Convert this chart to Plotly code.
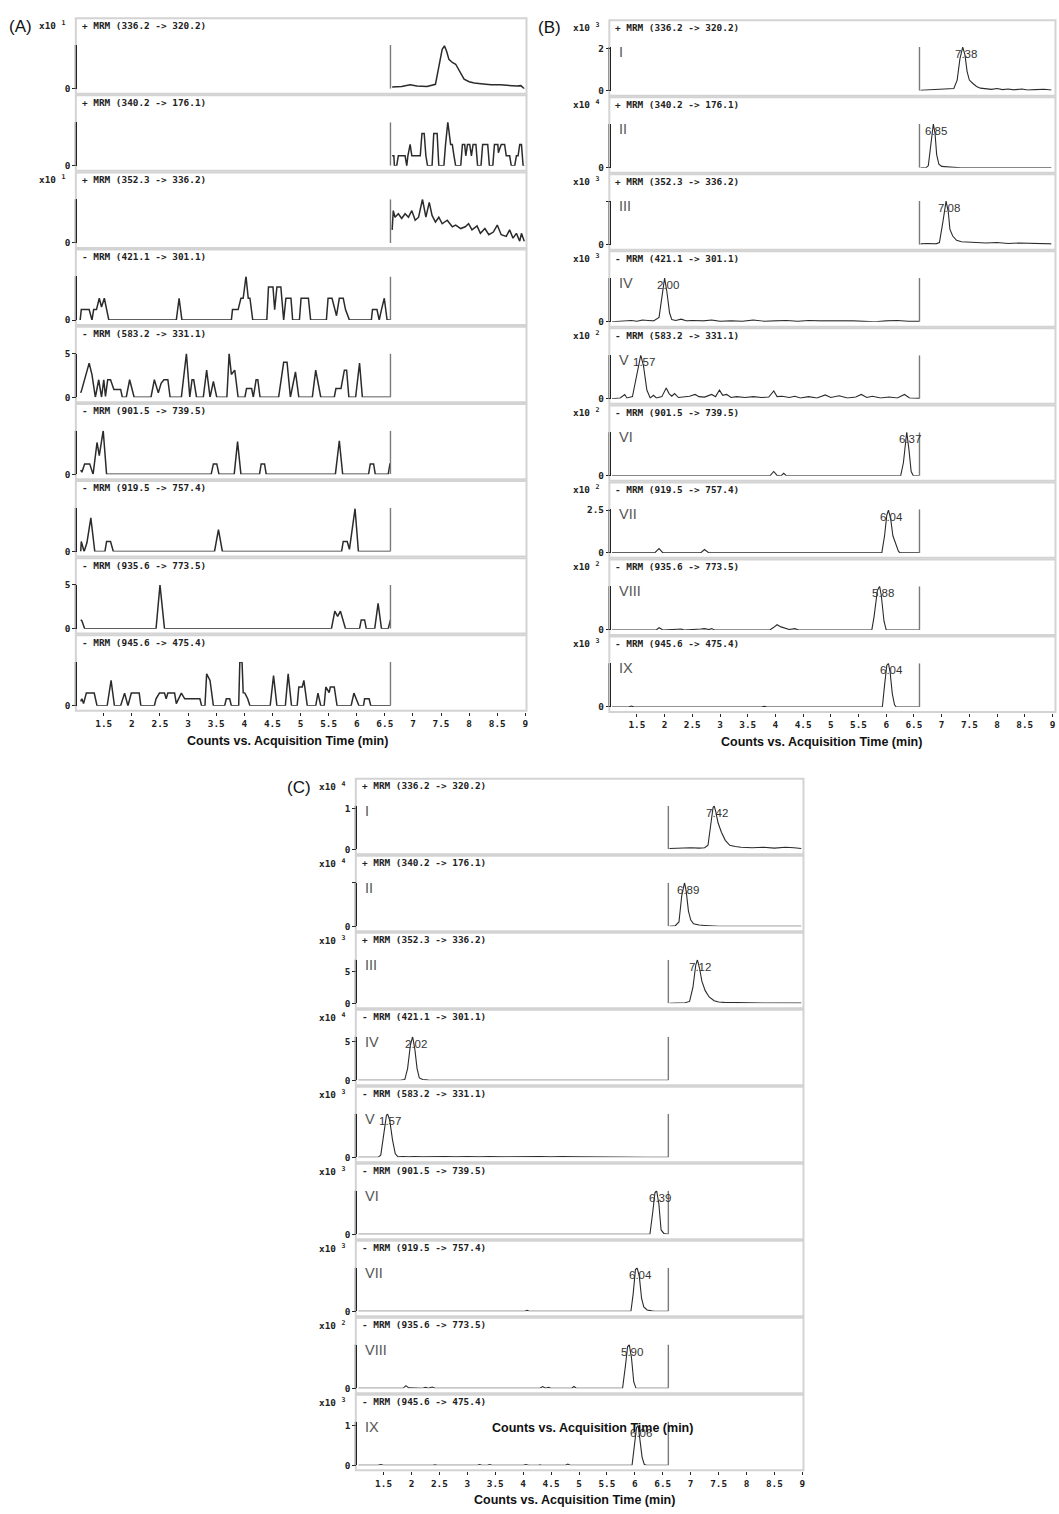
import plotly.graph_objects as go

W, H = 1059, 1514

# ---------------- shared axis data ----------------
TIME_TICKS = [1.5, 2, 2.5, 3, 3.5, 4, 4.5, 5, 5.5, 6, 6.5, 7, 7.5, 8, 8.5, 9]
TIME_TICK_TEXT = ["1.5", "2", "2.5", "3", "3.5", "4", "4.5", "5", "5.5", "6",
                  "6.5", "7", "7.5", "8", "8.5", "9"]
TIME_START = 1.03
SEGMENT_SPLIT = 6.6          # acquisition segment boundary (min)
X_TITLE = "Counts vs. Acquisition Time (min)"

TRANSITIONS = ["+ MRM (336.2 -> 320.2)", "+ MRM (340.2 -> 176.1)", "+ MRM (352.3 -> 336.2)",
               "- MRM (421.1 -> 301.1)", "- MRM (583.2 -> 331.1)", "- MRM (901.5 -> 739.5)",
               "- MRM (919.5 -> 757.4)", "- MRM (935.6 -> 773.5)", "- MRM (945.6 -> 475.4)"]
ROMAN = ["I", "II", "III", "IV", "V", "VI", "VII", "VIII", "IX"]

# ---------------- (A) blank ----------------
A1 = [(6.63,0.04),(6.80,0.05),(6.95,0.09),(7.07,0.06),(7.25,0.05),(7.40,0.10),(7.46,0.50),(7.52,0.90),
      (7.56,0.98),(7.60,0.85),(7.64,0.67),(7.70,0.60),(7.76,0.56),(7.83,0.40),(7.91,0.22),(8.00,0.16),
      (8.09,0.13),(8.25,0.11),(8.39,0.09),(8.55,0.09),(8.69,0.07),(8.85,0.06),(8.92,0.07),(8.98,0.00)]
A2 = [(6.63,0.23),(6.66,0.23),(6.67,0),(6.71,0),(6.74,0.23),(6.86,0.23),(6.89,0),(6.91,0.23),(6.95,0.49),
      (6.98,0.23),(7.13,0.23),(7.16,0.74),(7.20,0.74),(7.23,0.23),(7.26,0),(7.34,0),(7.37,0.74),(7.43,0.74),
      (7.46,0),(7.55,0),(7.58,0.49),(7.62,1.0),(7.67,0.49),(7.70,0.49),(7.73,0.23),(7.76,0),(7.85,0),
      (7.88,0.49),(7.92,0.49),(7.94,0.23),(7.97,0.49),(8.01,0.49),(8.04,0.23),(8.07,0.49),(8.12,0.49),
      (8.15,0),(8.21,0),(8.24,0.49),(8.33,0.49),(8.36,0),(8.42,0),(8.45,0.49),(8.51,0.49),(8.52,0.30),
      (8.57,0.49),(8.63,0.49),(8.66,0.23),(8.72,0.23),(8.75,0),(8.81,0),(8.84,0.23),(8.87,0.23),(8.90,0.49),
      (8.93,0.49),(8.96,0),(8.98,0)]
A3 = [(6.63,0.30),(6.65,0.74),(6.68,0.59),(6.74,0.67),(6.80,0.56),(6.86,0.67),(6.92,0.59),(6.98,0.74),
      (7.04,0.52),(7.10,0.59),(7.17,1.0),(7.23,0.59),(7.29,0.93),(7.34,0.63),(7.40,0.48),(7.46,0.59),
      (7.52,0.44),(7.61,0.52),(7.70,0.37),(7.76,0.41),(7.85,0.33),(7.93,0.37),(7.99,0.44),(8.05,0.30),
      (8.14,0.39),(8.20,0.22),(8.28,0.33),(8.35,0.19),(8.43,0.25),(8.50,0.41),(8.57,0.19),(8.66,0.15),
      (8.72,0.30),(8.78,0.11),(8.84,0.22),(8.90,0.04),(8.93,0.22),(8.97,0.07),(8.98,0.04)]
A4 = [(1.08,0.0),(1.10,0.24),(1.24,0.24),(1.29,0.0),(1.32,0.24),(1.37,0.24),(1.42,0.5),(1.46,0.3),
      (1.51,0.5),(1.55,0.24),(1.59,0.0),(2.79,0.0),(2.84,0.5),(2.89,0.0),(3.77,0.0),(3.79,0.24),
      (3.89,0.24),(3.94,0.5),(3.98,0.5),(4.03,1.0),(4.07,0.5),(4.10,0.5),(4.15,0.0),(4.40,0.0),
      (4.43,0.76),(4.51,0.76),(4.54,0.24),(4.58,0.76),(4.65,0.76),(4.70,0.0),(4.74,0.5),(4.83,0.5),
      (4.86,0.0),(4.98,0.0),(5.01,0.5),(5.14,0.5),(5.18,0.0),(5.46,0.0),(5.49,0.5),(5.56,0.5),(5.64,0.1),
      (5.69,0.5),(5.76,0.5),(5.80,0.24),(5.87,0.0),(6.26,0.0),(6.28,0.24),(6.36,0.24),(6.40,0.0),
      (6.44,0.24),(6.49,0.5),(6.54,0.0),(6.60,0.0)]
A5 = [(1.09,0.5),(1.11,0.9),(1.24,3.9),(1.29,2.6),(1.35,0),(1.41,2.0),(1.46,0),(1.50,2.0),(1.53,0.1),
      (1.57,2.0),(1.62,2.0),(1.68,0.9),(1.80,0.9),(1.83,0),(1.90,0),(1.96,2.0),(2.04,0),(2.34,0),(2.40,2.0),
      (2.47,0.5),(2.52,1.6),(2.57,2.0),(2.64,2.0),(2.68,0),(2.88,0),(2.97,5.0),(3.03,0),(3.07,2.0),
      (3.10,2.0),(3.15,0),(3.27,0),(3.33,3.1),(3.39,0),(3.45,1.8),(3.51,0),(3.69,0),(3.73,5.0),(3.77,2.6),
      (3.83,3.1),(3.89,0),(4.01,0),(4.04,1.0),(4.13,1.0),(4.16,0),(4.21,2.0),(4.24,2.0),(4.28,0),(4.61,0),
      (4.70,4.0),(4.76,4.0),(4.82,0),(4.91,2.9),(4.97,0),(5.21,0),(5.27,3.1),(5.36,0),(5.60,0),(5.63,1.0),
      (5.72,1.0),(5.78,3.1),(5.82,3.1),(5.86,0),(5.98,0),(6.05,3.9),(6.10,0),(6.60,0)]
A6 = [(1.09,0.1),(1.11,0.05),(1.16,0.24),(1.25,0.24),(1.31,0),(1.38,0.73),(1.42,0.43),(1.49,1.0),(1.55,0),
      (3.41,0),(3.45,0.24),(3.51,0.24),(3.55,0),(3.82,0),(3.88,0.75),(3.94,0),(4.27,0),(4.30,0.24),
      (4.36,0.24),(4.39,0),(5.62,0),(5.69,0.77),(5.75,0),(6.21,0),(6.24,0.24),(6.30,0.24),(6.33,0),
      (6.56,0),(6.59,0.24),(6.60,0.24)]
A7 = [(1.09,0.0),(1.10,0.23),(1.15,0.0),(1.20,0.2),(1.27,0.77),(1.34,0.0),(1.52,0),(1.55,0.23),(1.62,0.23),
      (1.67,0),(3.47,0),(3.54,0.5),(3.61,0),(5.73,0),(5.76,0.23),(5.83,0.23),(5.87,0.05),(5.97,0.98),
      (6.03,0),(6.60,0)]
A8 = [(1.09,1.0),(1.11,0.9),(1.16,0),(2.43,0),(2.50,5.0),(2.58,0),(5.55,0),(5.61,2.0),(5.66,1.4),
      (5.71,2.0),(5.80,0),(6.05,0),(6.08,1.0),(6.14,1.0),(6.17,0),(6.32,0),(6.38,2.9),(6.44,0),(6.56,0),
      (6.59,1.0),(6.60,1.0)]
A9 = [(1.09,0.1),(1.11,0.16),(1.14,0.05),(1.19,0.29),(1.33,0.29),(1.38,0),(1.56,0),(1.63,0.58),(1.69,0),
      (1.80,0),(1.87,0.29),(1.93,0),(1.99,0.29),(2.13,0.29),(2.16,0),(2.40,0),(2.43,0.16),(2.49,0.29),
      (2.58,0.29),(2.61,0.16),(2.64,0.29),(2.76,0.29),(2.79,0.05),(2.88,0.29),(2.94,0.16),(3.21,0.16),
      (3.24,0),(3.30,0),(3.33,0.73),(3.39,0.58),(3.45,0),(3.65,0),(3.68,0.16),(3.74,0.16),(3.77,0),
      (3.90,0),(3.92,1.0),(3.96,1.0),(3.98,0.3),(4.01,0.29),(4.06,0.16),(4.10,0),(4.46,0),(4.52,0.69),
      (4.58,0),(4.73,0),(4.78,0.73),(4.84,0),(4.94,0),(4.97,0.43),(5.03,0.43),(5.06,0.58),(5.12,0),
      (5.27,0),(5.31,0.29),(5.36,0),(5.42,0),(5.45,0.43),(5.51,0.3),(5.53,0.43),(5.60,0.43),(5.65,0),
      (5.90,0),(5.95,0.29),(5.99,0.16),(6.04,0),(6.12,0),(6.14,0.16),(6.22,0.16),(6.25,0),(6.60,0)]
A_SERIES = [A1, A2, A3, A4, A5, A6, A7, A8, A9]
A_EXP = [1, None, 1, None, None, None, None, None, None]
A_YTOP = [1, 1, 1, 1, 5, 1, 1, 5, 1]
A_YTICKS = [[(0, "0")], [(0, "0")], [(0, "0")], [(0, "0")], [(0, "0"), (5, "5")],
            [(0, "0")], [(0, "0")], [(0, "0"), (5, "5")], [(0, "0")]]

# ---------------- (B) ----------------
B1 = [(6.62,0.02),(6.80,0.04),(6.95,0.07),(7.05,0.05),(7.15,0.06),(7.22,0.10),(7.28,0.50),(7.33,1.50),
      (7.38,2.05),(7.42,1.70),(7.46,0.90),(7.50,0.50),(7.56,0.35),(7.63,0.20),(7.70,0.12),(7.80,0.08),
      (7.90,0.06),(8.00,0.10),(8.10,0.05),(8.20,0.08),(8.30,0.04),(8.45,0.08),(8.55,0.03),(8.70,0.05),
      (8.85,0.07),(8.98,0.03)]
B2 = [(6.62,0.0),(6.72,0.0),(6.76,0.05),(6.80,0.5),(6.85,1.0),(6.88,0.8),(6.91,0.3),(6.95,0.08),
      (7.00,0.03),(7.10,0.02),(7.20,0.01),(7.35,0.0),(8.98,0.0)]
B3 = [(6.62,0.02),(6.75,0.03),(6.90,0.02),(6.96,0.05),(7.02,0.5),(7.08,1.0),(7.12,0.75),(7.15,0.35),
      (7.20,0.2),(7.27,0.1),(7.36,0.07),(7.46,0.06),(7.60,0.05),(7.80,0.04),(8.00,0.05),(8.20,0.03),
      (8.40,0.04),(8.60,0.03),(8.80,0.03),(8.98,0.02)]
B4 = [(1.05,0.0),(1.30,0.01),(1.40,0.03),(1.50,0.01),(1.60,0.04),(1.70,0.03),(1.80,0.02),(1.90,0.10),
      (1.95,0.60),(2.00,1.0),(2.04,0.7),(2.09,0.2),(2.13,0.05),(2.20,0.03),(2.30,0.06),(2.40,0.02),
      (2.50,0.03),(2.70,0.02),(2.85,0.04),(3.00,0.01),(3.20,0.02),(3.40,0.01),(3.60,0.04),(3.80,0.01),
      (4.00,0.02),(4.20,0.03),(4.40,0.01),(4.60,0.03),(4.80,0.02),(5.00,0.02),(5.20,0.03),(5.40,0.02),
      (5.60,0.01),(5.80,0.0),(6.00,0.02),(6.20,0.03),(6.40,0.01),(6.60,0.01)]
B5 = [(1.05,0.0),(1.20,0.02),(1.28,0.10),(1.32,0.02),(1.42,0.05),(1.51,0.60),(1.57,1.0),(1.62,0.75),
      (1.68,0.2),(1.74,0.02),(1.80,0.08),(1.85,0.02),(1.95,0.05),(2.03,0.25),(2.08,0.12),(2.13,0.06),
      (2.18,0.12),(2.25,0.03),(2.35,0.04),(2.45,0.06),(2.55,0.10),(2.62,0.05),(2.72,0.04),(2.85,0.10),
      (2.92,0.05),(2.99,0.20),(3.05,0.08),(3.12,0.10),(3.20,0.03),(3.30,0.05),(3.45,0.03),(3.60,0.05),
      (3.75,0.03),(3.88,0.04),(3.97,0.18),(4.03,0.05),(4.12,0.06),(4.25,0.03),(4.35,0.06),(4.45,0.02),
      (4.60,0.05),(4.75,0.02),(4.90,0.09),(5.00,0.03),(5.15,0.07),(5.30,0.02),(5.45,0.04),(5.55,0.10),
      (5.65,0.03),(5.75,0.06),(5.90,0.02),(6.05,0.04),(6.20,0.02),(6.33,0.10),(6.42,0.02),(6.60,0.01)]
B6 = [(1.05,0.0),(3.90,0.0),(3.97,0.10),(4.03,0.01),(4.10,0.0),(4.15,0.06),(4.20,0.0),(6.26,0.0),
      (6.31,0.3),(6.35,0.9),(6.37,1.0),(6.41,0.6),(6.45,0.1),(6.49,0.0),(6.60,0.0)]
B7 = [(1.05,0.0),(1.82,0.0),(1.90,0.25),(1.97,0.0),(2.65,0.0),(2.72,0.2),(2.80,0.0),(5.92,0.0),
      (5.97,1.0),(6.01,2.2),(6.04,2.5),(6.08,2.0),(6.12,1.0),(6.17,0.5),(6.22,0.1),(6.25,0.0),(6.60,0.0)]
B8 = [(1.05,0.0),(1.85,0.0),(1.90,0.05),(1.97,0.0),(2.30,0.02),(2.35,0.0),(2.65,0.02),(2.72,0.03),
      (2.80,0.01),(2.85,0.03),(2.90,0.0),(3.90,0.0),(3.97,0.06),(4.03,0.12),(4.10,0.07),(4.17,0.05),
      (4.25,0.01),(4.35,0.03),(4.42,0.0),(5.74,0.0),(5.78,0.3),(5.84,0.9),(5.88,1.0),(5.91,0.8),
      (5.96,0.2),(6.00,0.0),(6.60,0.0)]
B9 = [(1.05,0.0),(1.35,0.0),(1.40,0.02),(1.45,0.0),(3.75,0.0),(3.80,0.015),(3.85,0.0),(5.93,0.0),
      (5.97,0.5),(6.01,0.95),(6.04,1.0),(6.07,0.8),(6.11,0.3),(6.15,0.05),(6.18,0.0),(6.60,0.0)]
B_SERIES = [B1, B2, B3, B4, B5, B6, B7, B8, B9]
B_EXP = [3, 4, 3, 3, 2, 2, 2, 2, 3]
B_YTOP = [2.06, 1, 1, 1, 1, 1, 2.55, 1, 1]
B_YTICKS = [[(0, "0"), (2, "2")], [(0, "0")], [(0, "0"), (1, "")], [(0, "0")], [(0, "0")],
            [(0, "0")], [(0, "0"), (2.5, "2.5")], [(0, "0")], [(0, "0")]]
B_PEAK_RT = ["7.38", "6.85", "7.08", "2.00", "1.57", "6.37", "6.04", "5.88", "6.04"]

# ---------------- (C) ----------------
C1 = [(6.62,0.02),(6.80,0.03),(7.00,0.04),(7.15,0.03),(7.25,0.04),(7.31,0.10),(7.36,0.60),(7.40,1.02),
      (7.42,1.07),(7.45,0.92),(7.49,0.65),(7.55,0.42),(7.62,0.22),(7.70,0.10),(7.80,0.07),(7.90,0.05),
      (8.10,0.04),(8.30,0.05),(8.50,0.03),(8.70,0.05),(8.85,0.04),(8.98,0.02)]
C2 = [(6.62,0.0),(6.72,0.01),(6.79,0.1),(6.84,0.7),(6.89,1.0),(6.92,0.8),(6.96,0.35),(7.00,0.15),
      (7.05,0.06),(7.15,0.03),(7.25,0.02),(7.35,0.01),(7.50,0.0),(8.98,0.0)]
C3 = [(6.62,0.0),(6.80,0.05),(6.90,0.1),(6.98,0.3),(7.04,2.5),(7.09,6.0),(7.12,6.9),(7.16,5.5),
      (7.20,3.5),(7.26,2.0),(7.33,1.0),(7.42,0.4),(7.50,0.2),(7.60,0.15),(7.80,0.1),(8.00,0.08),
      (8.30,0.05),(8.98,0.03)]
C4 = [(1.05,0.0),(1.80,0.0),(1.88,0.1),(1.93,1.5),(1.98,4.5),(2.02,5.6),(2.06,4.0),(2.10,1.5),
      (2.14,0.3),(2.20,0.1),(2.30,0.02),(2.50,0.0),(6.60,0.0)]
C5 = [(1.05,0.0),(1.40,0.0),(1.45,0.05),(1.50,0.55),(1.55,0.95),(1.57,1.0),(1.61,0.85),(1.66,0.40),
      (1.71,0.08),(1.76,0.01),(1.85,0.02),(1.95,0.01),(2.05,0.02),(2.20,0.01),(2.40,0.02),(2.60,0.02),
      (2.80,0.01),(3.00,0.02),(3.20,0.01),(3.40,0.02),(3.60,0.01),(3.80,0.015),(4.00,0.01),(4.30,0.02),
      (4.50,0.01),(4.70,0.02),(5.00,0.01),(5.50,0.0),(6.20,0.0),(6.60,0.0)]
C6 = [(1.05,0.0),(2.08,0.0),(2.12,0.01),(2.16,0.0),(6.27,0.0),(6.32,0.5),(6.36,0.95),(6.39,1.0),
      (6.43,0.7),(6.47,0.1),(6.52,0.02),(6.60,0.0)]
C7 = [(1.05,0.0),(4.03,0.0),(4.07,0.02),(4.11,0.0),(5.93,0.0),(5.97,0.4),(6.01,0.95),(6.04,1.0),
      (6.08,0.8),(6.12,0.3),(6.16,0.1),(6.22,0.03),(6.30,0.01),(6.35,0.0),(6.60,0.0)]
C8 = [(1.05,0.0),(1.85,0.0),(1.90,0.06),(1.95,0.01),(2.20,0.0),(2.25,0.02),(2.30,0.0),(2.37,0.03),
      (2.42,0.0),(4.30,0.0),(4.35,0.04),(4.40,0.0),(4.45,0.02),(4.50,0.0),(4.87,0.0),(4.91,0.04),
      (4.95,0.0),(5.78,0.0),(5.83,0.5),(5.87,0.95),(5.90,1.0),(5.94,0.7),(5.98,0.15),(6.02,0.0),(6.60,0.0)]
C9 = [(1.05,0.0),(1.40,0.0),(1.45,0.02),(1.50,0.0),(2.38,0.0),(2.42,0.01),(2.46,0.0),(3.18,0.0),
      (3.22,0.02),(3.26,0.0),(3.36,0.0),(3.40,0.02),(3.44,0.0),(4.00,0.0),(4.05,0.02),(4.10,0.0),
      (4.28,0.0),(4.30,0.01),(4.33,0.0),(4.76,0.0),(4.80,0.03),(4.84,0.0),(5.95,0.0),(5.99,0.5),
      (6.03,0.95),(6.06,1.0),(6.09,0.7),(6.13,0.2),(6.17,0.02),(6.21,0.0),(6.60,0.0)]
C_SERIES = [C1, C2, C3, C4, C5, C6, C7, C8, C9]
C_EXP = [4, 4, 3, 4, 3, 3, 3, 2, 3]
C_YTOP = [1.07, 1, 6.9, 5.6, 1, 1, 1, 1, 1.1]
C_YTICKS = [[(0, "0"), (1, "1")], [(0, "0"), (1, "")], [(0, "0"), (5, "5")], [(0, "0"), (5, "5")],
            [(0, "0")], [(0, "0")], [(0, "0")], [(0, "0")], [(0, "0"), (1, "1")]]
C_PEAK_RT = ["7.42", "6.89", "7.12", "2.02", "1.57", "6.39", "6.04", "5.90", "6.06"]

# ---------------- layout geometry (pixels) ----------------
GROUPS = [
    dict(name="(A)", series=A_SERIES, exp=A_EXP, ytop=A_YTOP, yticks=A_YTICKS, peaks=None, roman=False,
         axis_x=77.5, frame_r=527.5, t_end=9.02, base0=83.3, pitch=77.7, label_xy=(21, 21), title_x=288,
         lw=1.5),
    dict(name="(B)", series=B_SERIES, exp=B_EXP, ytop=B_YTOP, yticks=B_YTICKS, peaks=B_PEAK_RT, roman=True,
         axis_x=612.0, frame_r=1057.5, t_end=9.055, base0=85.3, pitch=77.6, label_xy=(551, 22), title_x=823,
         lw=1.1),
    dict(name="(C)", series=C_SERIES, exp=C_EXP, ytop=C_YTOP, yticks=C_YTICKS, peaks=C_PEAK_RT, roman=True,
         axis_x=358.0, frame_r=805.0, t_end=9.02, base0=849.5, pitch=77.56, label_xy=(300, 787), title_x=576,
         lw=1.1),
]
AXIS_H = 44
MONO = "DejaVu Sans Mono"
SANS = "Liberation Sans"
LINE = "#2b2b2b"


def px(x):
    return x / W


def py(y):
    return 1 - y / H


fig = go.Figure()
layout = {}
shapes = []
annotations = []

idx = 0
for g in GROUPS:
    ax = g["axis_x"]
    for row in range(9):
        idx += 1
        k = "" if idx == 1 else str(idx)
        xr, yr = "x" + k, "y" + k
        base = g["base0"] + g["pitch"] * row
        pts = g["series"][row]
        t = [p[0] for p in pts]
        v = [p[1] for p in pts]
        ytop = g["ytop"][row]
        fig.add_trace(go.Scatter(x=t, y=v, mode="lines", line=dict(color=LINE, width=g["lw"]),
                                 xaxis=xr, yaxis=yr, hoverinfo="skip", showlegend=False,
                                 cliponaxis=False))
        xa = dict(domain=[px(ax), px(g["frame_r"])], range=[TIME_START, g["t_end"]], anchor=yr,
                  showline=False, showgrid=False, zeroline=False, showticklabels=False,
                  ticks="", fixedrange=True)
        if row == 8:
            xa.update(anchor="free", position=py(base + 6), showticklabels=True, ticks="outside",
                      ticklen=3, tickwidth=1, tickcolor="#222", tickvals=TIME_TICKS,
                      ticktext=["<b>%s</b>" % s for s in TIME_TICK_TEXT],
                      tickfont=dict(family=MONO, size=9.4, color="#222"), ticklabelstandoff=0)
        tk = g["yticks"][row]
        ya = dict(domain=[py(base), py(base - AXIS_H)], range=[0, ytop], anchor=xr,
                  showline=True, linecolor="#222", linewidth=1, ticks="outside", ticklen=4,
                  tickwidth=1, tickcolor="#222", tickvals=[a for a, _ in tk],
                  ticktext=["<b>%s</b>" % s if s else "" for _, s in tk],
                  tickfont=dict(family=MONO, size=9.4, color="#222"),
                  showgrid=False, zeroline=False, fixedrange=True)
        layout["xaxis" + k] = xa
        layout["yaxis" + k] = ya

        # panel frame
        shapes.append(dict(type="rect", xref="paper", yref="paper", x0=px(ax - 1.5), x1=px(g["frame_r"]),
                           y0=py(base + 5), y1=py(base - 71), line=dict(color="#d3d3d3", width=2),
                           layer="below"))
        # second (grey) line of the double y axis
        shapes.append(dict(type="line", xref="paper", yref="paper", x0=px(ax - 2.2), x1=px(ax - 2.2),
                           y0=py(base), y1=py(base - AXIS_H), line=dict(color="#8a8a8a", width=1)))
        # segment boundary
        shapes.append(dict(type="line", xref=xr, yref=yr, x0=SEGMENT_SPLIT, x1=SEGMENT_SPLIT,
                           y0=0, y1=ytop, line=dict(color="#7a7a7a", width=1.4)))

        # transition title
        annotations.append(dict(xref="paper", yref="paper", x=px(ax + 2.5), y=py(base - 64),
                                xanchor="left", yanchor="middle", showarrow=False,
                                text="<b>%s</b>" % TRANSITIONS[row],
                                font=dict(family=MONO, size=9.4, color="#222")))
        if g["exp"][row] is not None:
            annotations.append(dict(xref="paper", yref="paper", x=px(ax - 9), y=py(base - 64),
                                    xanchor="right", yanchor="middle", showarrow=False,
                                    text="<b>x10 <sup>%d</sup></b>" % g["exp"][row],
                                    font=dict(family=MONO, size=9.4, color="#222")))
        if g["roman"]:
            annotations.append(dict(xref="paper", yref="paper", x=px(ax + 6), y=py(base - 39),
                                    xanchor="left", yanchor="middle", showarrow=False,
                                    text=ROMAN[row], font=dict(family=SANS, size=14.5, color="#555")))
        if g["peaks"] is not None:
            rt = g["peaks"][row]
            annotations.append(dict(xref=xr, yref=yr, x=float(rt), y=min(max(v), ytop),
                                    xanchor="center", yanchor="top", xshift=3, yshift=1,
                                    showarrow=False, text=rt,
                                    font=dict(family=SANS, size=11.5, color="#333")))

    last_base = g["base0"] + g["pitch"] * 8
    annotations.append(dict(xref="paper", yref="paper", x=px(g["title_x"]), y=py(last_base + 35),
                            xanchor="center", yanchor="middle", showarrow=False,
                            text="<b>%s</b>" % X_TITLE,
                            font=dict(family=SANS, size=12.5, color="#111")))
    annotations.append(dict(xref="paper", yref="paper", x=px(g["label_xy"][0]), y=py(g["label_xy"][1]),
                            xanchor="center", yanchor="middle", showarrow=False, text=g["name"],
                            font=dict(family=SANS, size=17, color="#111")))

# stray axis caption overlapping panel C-IX (as in the original figure)
annotations.append(dict(xref="paper", yref="paper", x=px(594), y=py(1432), xanchor="center",
                        yanchor="middle", showarrow=False, text="<b>%s</b>" % X_TITLE,
                        font=dict(family=SANS, size=12.5, color="#111")))

fig.update_layout(width=W, height=H, margin=dict(l=0, r=0, t=0, b=0),
                  paper_bgcolor="white", plot_bgcolor="rgba(0,0,0,0)", showlegend=False,
                  shapes=shapes, annotations=annotations, **layout)

fig.write_html("out.html", config={"displayModeBar": False, "staticPlot": True},
               post_script="document.body.style.margin='0px';document.body.style.padding='0px';")
